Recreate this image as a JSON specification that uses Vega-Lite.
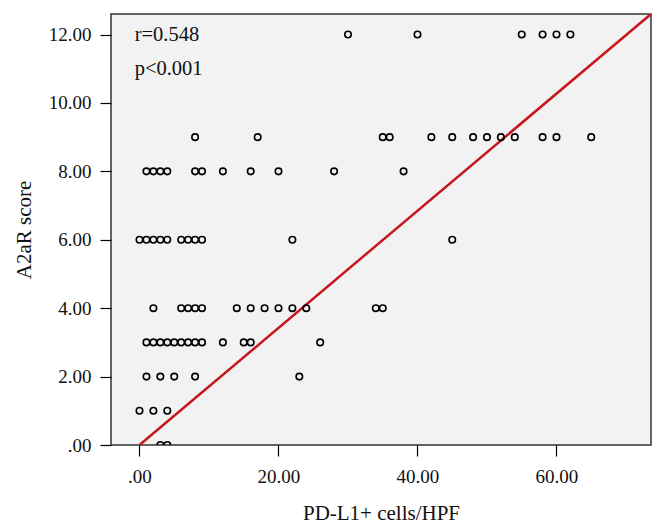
{
  "$schema": "https://vega.github.io/schema/vega-lite/v6.json",
  "width": 540,
  "height": 431,
  "autosize": {"type": "none"},
  "padding": {"left": 111, "top": 14, "right": 15, "bottom": 86},
  "background": "white",
  "config": {
    "view": {"fill": "#f2f2f2", "stroke": "#333333", "strokeWidth": 1.5},
    "font": "Liberation Serif",
    "axis": {
      "grid": false,
      "domain": false,
      "tickColor": "#000000",
      "tickSize": 11,
      "tickWidth": 1.2,
      "labelFont": "Liberation Serif",
      "labelFontSize": 19,
      "labelColor": "#111111",
      "titleFont": "Liberation Serif",
      "titleFontSize": 21,
      "titleFontWeight": "normal",
      "titleColor": "#111111"
    }
  },
  "datasets": {
    "pts": [
      {"pdl1": 30, "a2ar": 12}, {"pdl1": 40, "a2ar": 12}, {"pdl1": 55, "a2ar": 12}, {"pdl1": 58, "a2ar": 12}, {"pdl1": 60, "a2ar": 12}, {"pdl1": 62, "a2ar": 12},
      {"pdl1": 8, "a2ar": 9}, {"pdl1": 17, "a2ar": 9}, {"pdl1": 35, "a2ar": 9}, {"pdl1": 36, "a2ar": 9}, {"pdl1": 42, "a2ar": 9}, {"pdl1": 45, "a2ar": 9}, {"pdl1": 48, "a2ar": 9}, {"pdl1": 50, "a2ar": 9}, {"pdl1": 52, "a2ar": 9}, {"pdl1": 54, "a2ar": 9}, {"pdl1": 58, "a2ar": 9}, {"pdl1": 60, "a2ar": 9}, {"pdl1": 65, "a2ar": 9},
      {"pdl1": 1, "a2ar": 8}, {"pdl1": 2, "a2ar": 8}, {"pdl1": 3, "a2ar": 8}, {"pdl1": 4, "a2ar": 8}, {"pdl1": 8, "a2ar": 8}, {"pdl1": 9, "a2ar": 8}, {"pdl1": 12, "a2ar": 8}, {"pdl1": 16, "a2ar": 8}, {"pdl1": 20, "a2ar": 8}, {"pdl1": 28, "a2ar": 8}, {"pdl1": 38, "a2ar": 8},
      {"pdl1": 0, "a2ar": 6}, {"pdl1": 1, "a2ar": 6}, {"pdl1": 2, "a2ar": 6}, {"pdl1": 3, "a2ar": 6}, {"pdl1": 4, "a2ar": 6}, {"pdl1": 6, "a2ar": 6}, {"pdl1": 7, "a2ar": 6}, {"pdl1": 8, "a2ar": 6}, {"pdl1": 9, "a2ar": 6}, {"pdl1": 22, "a2ar": 6}, {"pdl1": 45, "a2ar": 6},
      {"pdl1": 2, "a2ar": 4}, {"pdl1": 6, "a2ar": 4}, {"pdl1": 7, "a2ar": 4}, {"pdl1": 8, "a2ar": 4}, {"pdl1": 9, "a2ar": 4}, {"pdl1": 14, "a2ar": 4}, {"pdl1": 16, "a2ar": 4}, {"pdl1": 18, "a2ar": 4}, {"pdl1": 20, "a2ar": 4}, {"pdl1": 22, "a2ar": 4}, {"pdl1": 24, "a2ar": 4}, {"pdl1": 34, "a2ar": 4}, {"pdl1": 35, "a2ar": 4},
      {"pdl1": 1, "a2ar": 3}, {"pdl1": 2, "a2ar": 3}, {"pdl1": 3, "a2ar": 3}, {"pdl1": 4, "a2ar": 3}, {"pdl1": 5, "a2ar": 3}, {"pdl1": 6, "a2ar": 3}, {"pdl1": 7, "a2ar": 3}, {"pdl1": 8, "a2ar": 3}, {"pdl1": 9, "a2ar": 3}, {"pdl1": 12, "a2ar": 3}, {"pdl1": 15, "a2ar": 3}, {"pdl1": 16, "a2ar": 3}, {"pdl1": 26, "a2ar": 3},
      {"pdl1": 1, "a2ar": 2}, {"pdl1": 3, "a2ar": 2}, {"pdl1": 5, "a2ar": 2}, {"pdl1": 8, "a2ar": 2}, {"pdl1": 23, "a2ar": 2},
      {"pdl1": 0, "a2ar": 1}, {"pdl1": 2, "a2ar": 1}, {"pdl1": 4, "a2ar": 1},
      {"pdl1": 3, "a2ar": 0}, {"pdl1": 4, "a2ar": 0}
    ],
    "fit": [{"pdl1": 0, "a2ar": 0}, {"pdl1": 73.6, "a2ar": 12.6}],
    "notes": [{"pdl1": -0.7, "a2ar": 12, "label": "r=0.548"}, {"pdl1": -0.7, "a2ar": 11, "label": "p<0.001"}]
  },
  "layer": [
    {
      "data": {"name": "fit"},
      "mark": {"type": "line", "color": "#c8161d", "strokeWidth": 2.5, "clip": true},
      "encoding": {
        "x": {"field": "pdl1", "type": "quantitative"},
        "y": {"field": "a2ar", "type": "quantitative"}
      }
    },
    {
      "data": {"name": "pts"},
      "mark": {"type": "point", "shape": "circle", "filled": false, "color": "#000000", "strokeWidth": 1.6, "size": 42, "opacity": 1, "clip": true},
      "encoding": {
        "x": {
          "field": "pdl1", "type": "quantitative",
          "scale": {"domain": [-4.1, 73.6], "nice": false, "zero": false},
          "axis": {"values": [0, 20, 40, 60], "labelExpr": "datum.value == 0 ? '.00' : format(datum.value, '.2f')", "title": "PD-L1+ cells/HPF", "labelPadding": 11, "titlePadding": 16}
        },
        "y": {
          "field": "a2ar", "type": "quantitative",
          "scale": {"domain": [0, 12.6], "nice": false, "zero": false},
          "axis": {"values": [0, 2, 4, 6, 8, 10, 12], "labelExpr": "datum.value == 0 ? '.00' : format(datum.value, '.2f')", "title": "A2aR score", "labelPadding": 9, "titlePadding": 14}
        }
      }
    },
    {
      "data": {"name": "notes"},
      "mark": {"type": "text", "align": "left", "baseline": "middle", "fontSize": 20.5, "font": "Liberation Serif", "color": "#111111"},
      "encoding": {
        "x": {"field": "pdl1", "type": "quantitative"},
        "y": {"field": "a2ar", "type": "quantitative"},
        "text": {"field": "label"}
      }
    }
  ]
}
